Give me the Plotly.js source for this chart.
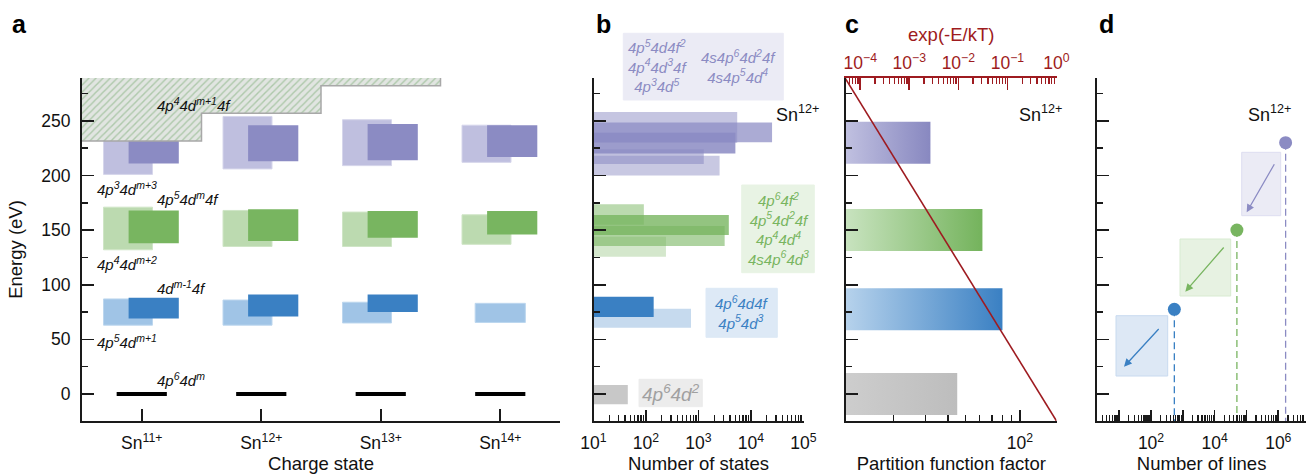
<!DOCTYPE html>
<html><head><meta charset="utf-8">
<script src="https://cdn.plot.ly/plotly-3.0.1.min.js"></script>
<style>html,body{margin:0;padding:0;background:#fff}#chart{width:1306px;height:474px}</style>
</head><body><div id="chart"></div>
<script>
// ================= DATA =================
// Panel a: energy ranges (eV) of configuration groups for each charge state
const chargeStates = ['Sn<sup>11+</sup>', 'Sn<sup>12+</sup>', 'Sn<sup>13+</sup>', 'Sn<sup>14+</sup>'];
const p3d_m3_lo = [201, 206, 209, 212];      // 4p3 4d(m+3)  (light purple)
const p3d_m3_hi = [259, 254, 251, 246];
const p4d_m1f_lo = [211, 213, 214, 217];     // 4p4 4d(m+1) 4f (dark purple)
const p4d_m1f_hi = [245, 246, 247, 246];
const p4d_m2_lo = [132, 135, 135, 137];      // 4p4 4d(m+2) (light green)
const p4d_m2_hi = [171, 168, 166.5, 164];
const p5d_mf_lo = [138, 140, 143, 146];      // 4p5 4d(m) 4f (dark green)
const p5d_mf_hi = [168, 169, 167.5, 167.5];
const p5d_m1_lo = [63, 63, 65, 65.5];        // 4p5 4d(m+1) (light blue)
const p5d_m1_hi = [87, 86, 84, 83];
const d_m1f_lo = [69, 71, 75, null];         // 4d(m-1) 4f (dark blue)
const d_m1f_hi = [88, 91, 91, null];
const groundEnergy = [0, 0, 0, 0];           // 4p6 4d(m)
const hatchOnset = [231.5, 257, 282];        // lower edge of 4p4 4d(m+1) 4f continuum, Sn11+..Sn13+

// Panel b: number of states per configuration (Sn12+) and energy spans
const purpleStates = [5460, 25200, 5040, 1260, 2520];
const purpleLo = [230, 230.5, 220, 210.5, 200];
const purpleHi = [258, 248.5, 239, 224, 218];
const greenStates = [91, 3780, 3150, 240];
const greenLo = [155, 145.5, 135.4, 125.6];
const greenHi = [173.6, 163.8, 153.7, 144];
const blueStates = [720, 140];
const blueLo = [60.6, 70.5];
const blueHi = [78, 89];
const grayStates = [45];
const grayLo = [-9.4];
const grayHi = [8.2];

// Panel c: partition function factor per group (gray, blue, green, purple)
const meanEnergy = [0, 77.5, 150, 230];
const partitionFactor = [45, 80, 62, 32];
const boltzFactor = [4.9e-5, 1];     // exp(-E/kT)
const boltzEnergy = [289.2, -24.7];

// Panel d: number of lines (blue, green, purple)
const lineCounts = [540, 5.0e4, 1.7e6];
const lineEnergy = [77.5, 150, 230];

// ================= STYLE / LAYOUT =================
const W = 1306, H = 474;
const X = v => v / W, Y = v => 1 - v / H;
const E_RANGE = [-24.7, 289.2];
const yDom = [Y(421), Y(78)];
const FONT = 'Liberation Sans, Arial, Helvetica, sans-serif';
const PURPLE = '#8b8bc3', GREEN = '#78b560', BLUE = '#3a80c3';
const PURPLE_L = '#bfbfdf', GREEN_L = '#bcdab0', BLUE_L = '#a0c4e6';
const RED = '#9e1b20';
const INK = '#1a1a1a';
const rgba = (hex, a) => {
  const n = parseInt(hex.slice(1), 16);
  return `rgba(${n >> 16},${(n >> 8) & 255},${n & 255},${a})`;
};

const data = [];
const cat = chargeStates.map((_, i) => i);

// ---- panel a ----
const hx = [], hy = [];
hatchOnset.forEach((b, i) => { hx.push(i - 0.5, i + 0.5); hy.push(b, b); });
data.push({type: 'scatter', mode: 'lines', x: [-0.5, ...hx, hatchOnset.length - 0.5],
  y: [E_RANGE[1], ...hy, E_RANGE[1]], fill: 'toself', line: {width: 0},
  fillcolor: '#e1e5e1',
  fillpattern: {shape: '/', bgcolor: '#e1e5e1', fgcolor: '#adc8aa', size: 5, solidity: 0.28},
  xaxis: 'x', yaxis: 'y', hoverinfo: 'skip', showlegend: false});
data.push({type: 'scatter', mode: 'lines', x: [...hx, hatchOnset.length - 0.5], y: [...hy, E_RANGE[1]],
  line: {color: '#a8a8a8', width: 1.5}, xaxis: 'x', yaxis: 'y', hoverinfo: 'skip', showlegend: false});

function boxes(lo, hi, color, offset, width, lineColor) {
  return {type: 'bar', x: cat, base: lo, y: hi.map((h, i) => h == null ? null : h - lo[i]),
    offset: offset, width: width,
    marker: {color: color, line: {color: lineColor || color, width: lineColor ? 1 : 0}},
    xaxis: 'x', yaxis: 'y', hoverinfo: 'skip', showlegend: false};
}
data.push(boxes(p3d_m3_lo, p3d_m3_hi, PURPLE_L, -0.32, 0.41, '#d6d6eb'));
data.push(boxes(p4d_m2_lo, p4d_m2_hi, GREEN_L, -0.32, 0.41, '#cfe5c6'));
data.push(boxes(p5d_m1_lo, p5d_m1_hi, BLUE_L, [-0.32, -0.32, -0.32, -0.21], [0.41, 0.41, 0.41, 0.42], '#bcd6ee'));
data.push(boxes(p4d_m1f_lo, p4d_m1f_hi, PURPLE, -0.11, 0.42));
data.push(boxes(p5d_mf_lo, p5d_mf_hi, GREEN, -0.11, 0.42));
data.push(boxes(d_m1f_lo, d_m1f_hi, BLUE, -0.11, 0.42));
const gx = [], gy = [];
groundEnergy.forEach((e, i) => { gx.push(i - 0.21, i + 0.21, null); gy.push(e, e, null); });
data.push({type: 'scatter', mode: 'lines', x: gx, y: gy, line: {color: '#000', width: 4},
  xaxis: 'x', yaxis: 'y', hoverinfo: 'skip', showlegend: false});

// ---- panel b ----
const B_MIN = 10;
function hbar(v, lo, hi, fill, xa, ya, xmin) {
  return {type: 'scatter', mode: 'lines', x: [xmin, v, v, xmin, xmin], y: [lo, lo, hi, hi, lo],
    fill: 'toself', fillcolor: fill, line: {width: 0}, xaxis: xa, yaxis: ya,
    hoverinfo: 'skip', showlegend: false};
}
const purpleAlpha = [0.5, 0.72, 0.85, 0.55, 0.48];
purpleStates.forEach((v, i) => data.push(hbar(v, purpleLo[i], purpleHi[i], rgba(PURPLE, purpleAlpha[i]), 'x2', 'y2', B_MIN)));
const greenAlpha = [0.5, 0.8, 0.6, 0.32];
greenStates.forEach((v, i) => data.push(hbar(v, greenLo[i], greenHi[i], rgba(GREEN, greenAlpha[i]), 'x2', 'y2', B_MIN)));
const blueAlpha = [0.29, 1];
blueStates.forEach((v, i) => data.push(hbar(v, blueLo[i], blueHi[i], rgba(BLUE, blueAlpha[i]), 'x2', 'y2', B_MIN)));
grayStates.forEach((v, i) => data.push(hbar(v, grayLo[i], grayHi[i], '#c8c8c8', 'x2', 'y2', B_MIN)));

// ---- panel c ----
const C_RANGE = [1.0387, 2.2017];
const C_MIN = Math.pow(10, C_RANGE[0]);
const HALF = 19.2;
const gradients = [['#cdcdcd', '#bdbdbd'], ['#b6d2ec', BLUE], ['#c8e3bf', '#74b35c'], ['#c0c0e0', '#8888c0']];
partitionFactor.forEach((v, i) => {
  const t = hbar(v, meanEnergy[i] - HALF, meanEnergy[i] + HALF, gradients[i][1], 'x3', 'y3', C_MIN);
  t.fillgradient = {type: 'horizontal', colorscale: [[0, gradients[i][0]], [1, gradients[i][1]]]};
  data.push(t);
});
data.push({type: 'scatter', mode: 'lines', x: boltzFactor, y: boltzEnergy,
  line: {color: RED, width: 1.6}, xaxis: 'x5', yaxis: 'y3', hoverinfo: 'skip', showlegend: false, cliponaxis: false});

// ---- panel d ----
const D_COLORS = [BLUE, GREEN, PURPLE];
lineCounts.forEach((n, i) => {
  data.push({type: 'scatter', mode: 'lines', x: [n, n], y: [lineEnergy[i], E_RANGE[0]],
    line: {color: D_COLORS[i], width: 1.3, dash: '7px,4px'}, xaxis: 'x4', yaxis: 'y4',
    hoverinfo: 'skip', showlegend: false});
});
data.push({type: 'scatter', mode: 'markers', x: lineCounts, y: lineEnergy,
  marker: {color: D_COLORS, size: 13, line: {width: 0}}, xaxis: 'x4', yaxis: 'y4',
  hoverinfo: 'skip', showlegend: false, cliponaxis: false});

// ---- axes ----
const tickFont = {family: FONT, size: 17.5, color: '#111'};
const titleFont = {family: FONT, size: 18.5, color: '#111'};
const axBase = {showline: true, linecolor: INK, linewidth: 2, ticks: 'inside', ticklen: 12,
  tickwidth: 1.6, tickcolor: INK, showgrid: false, zeroline: false, tickfont: tickFont, fixedrange: true};
function yAx(anchor, labels, extra) {
  return Object.assign({}, axBase, {anchor: anchor, domain: yDom, range: E_RANGE,
    tickmode: 'linear', tick0: 0, dtick: 50, showticklabels: labels,
    minor: {ticks: 'inside', ticklen: 6, tickwidth: 1.6, tickcolor: INK, tick0: 0, dtick: 25}}, extra || {});
}
const sup = p => '10<sup>' + (p < 0 ? '\u2212' + (-p) : p) + '</sup>';
function logAx(domain, range, pows, labelPows, extra) {
  return Object.assign({}, axBase, {type: 'log', domain: domain, range: range, tickmode: 'array',
    tickvals: pows.map(p => Math.pow(10, p)),
    ticktext: pows.map(p => labelPows.includes(p) ? sup(p) : ' '),
    ticklen: 11, ticklabelstandoff: 5,
    minor: {ticks: 'inside', ticklen: 6, tickwidth: 1.3, tickcolor: INK, dtick: 'D1'}}, extra || {});
}

const layout = {
  width: W, height: H, margin: {l: 0, r: 0, t: 0, b: 0},
  paper_bgcolor: '#fff', plot_bgcolor: 'rgba(0,0,0,0)',
  font: {family: FONT, color: '#111'},
  barmode: 'overlay', showlegend: false,
  xaxis: Object.assign({}, axBase, {domain: [X(82), X(560)], range: [-0.5, 3.5], anchor: 'y',
    tickmode: 'array', tickvals: cat, ticktext: chargeStates, ticklabelstandoff: 5,
    title: {text: 'Charge state', font: titleFont, standoff: 8}}),
  yaxis: yAx('x', true, {ticklabelstandoff: 6, title: {text: 'Energy (eV)', font: titleFont, standoff: 14}}),
  xaxis2: logAx([X(593.5), X(803.5)], [1, 5], [1, 2, 3, 4, 5], [1, 2, 3, 4, 5],
    {anchor: 'y2', title: {text: 'Number of states', font: titleFont, standoff: 8}}),
  yaxis2: yAx('x2', false),
  xaxis3: logAx([X(846), X(1056.5)], C_RANGE, [2], [2],
    {anchor: 'y3', title: {text: 'Partition function factor', font: titleFont, standoff: 8}}),
  yaxis3: yAx('x3', false),
  xaxis5: logAx([X(846), X(1056.5)], [-4.29, 0], [-4, -3, -2, -1, 0], [-4, -3, -2, -1, 0],
    {overlaying: 'x3', side: 'top', anchor: 'y3', linecolor: RED, tickcolor: RED,
     tickfont: {family: FONT, size: 17.5, color: RED}, ticklen: 12, ticklabelstandoff: 0,
     minor: {ticks: 'inside', ticklen: 6, tickwidth: 1.3, tickcolor: RED, dtick: 'D1'},
     title: {text: 'exp(-E/kT)', font: {family: FONT, size: 18.5, color: RED}, standoff: 4}}),
  xaxis4: logAx([X(1097.3), 1], [0.311, 6.871], [1, 2, 3, 4, 5, 6], [2, 4, 6],
    {anchor: 'y4', title: {text: 'Number of lines', font: titleFont, standoff: 8}}),
  yaxis4: yAx('x4', false),
  shapes: [], annotations: []
};

// panel letters
[['a', 10], ['b', 594], ['c', 843], ['d', 1097]].forEach(([t, x]) => layout.annotations.push({
  xref: 'paper', yref: 'paper', x: X(x), y: Y(24), xanchor: 'left', yanchor: 'middle',
  text: '<b>' + t + '</b>', showarrow: false, font: {family: FONT, size: 25, color: '#000'}}));

// text labels
const lab = (text, x, y, size, color, anchor) => layout.annotations.push({
  xref: 'paper', yref: 'paper', x: X(x), y: Y(y), xanchor: anchor || 'left', yanchor: 'middle',
  text: text, showarrow: false, align: 'center', font: {family: FONT, size: size, color: color || '#111'}});
lab('<i>4p<sup>4</sup>4d<sup>m+1</sup>4f</i>', 155, 104, 15);
lab('<i>4p<sup>3</sup>4d<sup>m+3</sup></i>', 95, 188, 15);
lab('<i>4p<sup>5</sup>4d<sup>m</sup>4f</i>', 155, 198, 15);
lab('<i>4p<sup>4</sup>4d<sup>m+2</sup></i>', 95, 263, 15);
lab('<i>4d<sup>m-1</sup>4f</i>', 155, 287, 15);
lab('<i>4p<sup>5</sup>4d<sup>m+1</sup></i>', 95, 341, 15);
lab('<i>4p<sup>6</sup>4d<sup>m</sup></i>', 155, 379, 15);

// panel b configuration boxes
const rect = (x0, y0, x1, y1, fill, line) => layout.shapes.push({type: 'rect', xref: 'paper', yref: 'paper',
  x0: X(x0), x1: X(x1), y0: Y(y1), y1: Y(y0), fillcolor: fill, line: {color: line || fill, width: 1}, layer: 'below'});
rect(623.3, 33.3, 783.3, 100, '#ebebf5');
lab('<i>4p<sup>5</sup>4d4f<sup>2</sup><br>4p<sup>4</sup>4d<sup>3</sup>4f<br>4p<sup>3</sup>4d<sup>5</sup></i>', 657, 66, 15, PURPLE, 'center');
lab('<i>4s4p<sup>6</sup>4d<sup>2</sup>4f<br>4s4p<sup>5</sup>4d<sup>4</sup></i>', 738.5, 66.5, 15, PURPLE, 'center');
rect(741.7, 185, 814.3, 272.7, '#e8f3e4');
lab('<i>4p<sup>6</sup>4f<sup>2</sup><br>4p<sup>5</sup>4d<sup>2</sup>4f<br>4p<sup>4</sup>4d<sup>4</sup><br>4s4p<sup>6</sup>4d<sup>3</sup></i>', 778, 229, 15, GREEN, 'center');
rect(706, 288.3, 777.3, 337.3, '#dde9f6');
lab('<i>4p<sup>6</sup>4d4f<br>4p<sup>5</sup>4d<sup>3</sup></i>', 741.7, 312, 15, BLUE, 'center');
rect(639, 379.3, 702.3, 406.7, '#ececec');
lab('<i>4p<sup>6</sup>4d<sup>2</sup></i>', 670.5, 393, 19, '#a0a0a0', 'center');

// Sn12+ labels
[797, 1040, 1269].forEach(x => lab('Sn<sup>12+</sup>', x, 114, 18, '#111', 'center'));

// panel d boxes and arrows
rect(1241.7, 152.3, 1280.7, 215.7, '#ebebf5', '#dedef0');
rect(1180, 239, 1230.7, 296, '#e7f2e2', '#d8ebd1');
rect(1116, 315.7, 1167.7, 376, '#dde8f5', '#c8daef');
[[1246.7, 212.3, 1277.3, 159, PURPLE], [1185.3, 291.7, 1226.7, 244, GREEN], [1124, 366.7, 1161.7, 325.7, BLUE]]
  .forEach(([hx0, hy0, tx, ty, c]) => layout.annotations.push({xref: 'paper', yref: 'paper',
    x: X(hx0), y: Y(hy0), ax: tx - hx0, ay: ty - hy0, axref: 'pixel', ayref: 'pixel', text: ' ',
    showarrow: true, arrowhead: 2, arrowsize: 1.2, arrowwidth: 1.3, arrowcolor: c}));

Plotly.newPlot('chart', data, layout, {displayModeBar: false, staticPlot: true});
</script></body></html>
